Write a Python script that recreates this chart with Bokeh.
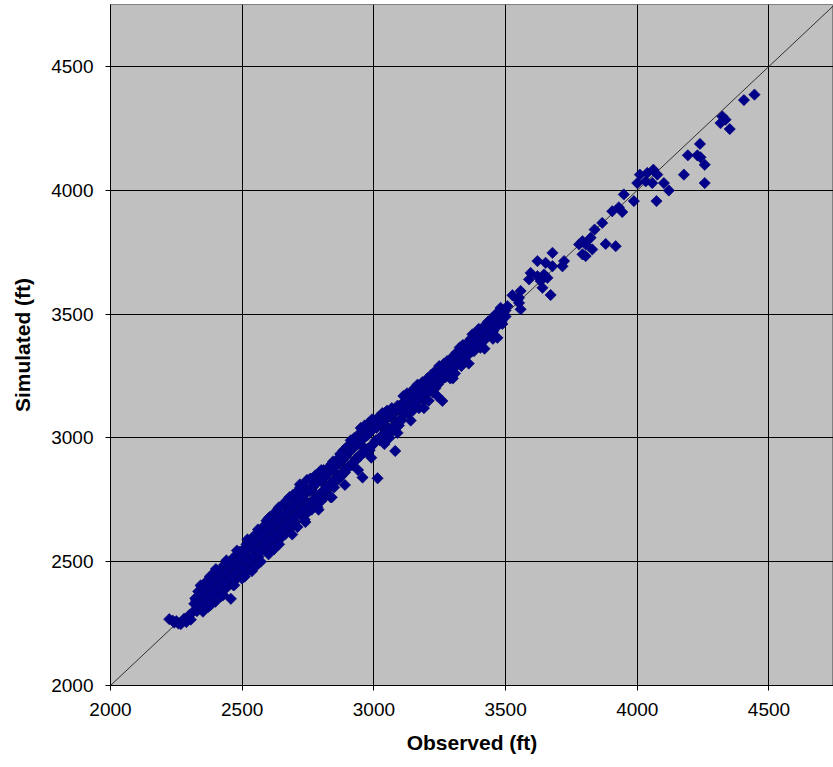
from bokeh.plotting import figure
from bokeh.models import Range1d, FixedTicker, ColumnDataSource
from bokeh.embed import file_html
from bokeh.resources import INLINE

# ---------------- data ----------------
tick_values = [2000, 2500, 3000, 3500, 4000, 4500]
one_to_one = [2000, 4750]

tail_obs = [2223, 2236, 2242, 2250, 2258, 2267, 2275, 2280, 2288, 2294, 2299, 2305, 2312, 2318]
tail_sim = [2268, 2262, 2254, 2260, 2250, 2248, 2262, 2270, 2256, 2276, 2284, 2266, 2296, 2330]

low_obs = [2322, 2328, 2333, 2338, 2342, 2347, 2351, 2356, 2360, 2364,
           2368, 2372, 2377, 2381, 2385, 2390, 2394, 2398, 2402, 2406,
           2410, 2415, 2419, 2423, 2428, 2432, 2436, 2441, 2445, 2450,
           2454, 2457, 2461, 2466, 2470, 2474, 2478, 2483, 2487, 2491,
           2495, 2499, 2503, 2508, 2512, 2516, 2520, 2525, 2529, 2533,
           2537, 2541, 2546, 2550, 2554, 2558, 2562, 2567, 2571, 2575,
           2579, 2583, 2588, 2592, 2596, 2600, 2604, 2609, 2613, 2617,
           2621, 2625, 2630, 2634, 2638, 2642, 2646, 2651, 2655, 2659,
           2663, 2667, 2672, 2676, 2680, 2684, 2688, 2693, 2697, 2701]
low_sim = [2352, 2300, 2380, 2326, 2404, 2350, 2298, 2396, 2335, 2420,
           2360, 2318, 2440, 2392, 2345, 2452, 2410, 2338, 2388, 2462,
           2372, 2425, 2470, 2400, 2365, 2488, 2440, 2395, 2475, 2420,
           2500, 2350, 2455, 2405, 2520, 2470, 2430, 2512, 2455, 2540,
           2478, 2432, 2548, 2500, 2455, 2570, 2520, 2470, 2580, 2505,
           2462, 2600, 2545, 2495, 2612, 2575, 2520, 2625, 2500, 2580,
           2640, 2548, 2620, 2665, 2540, 2600, 2680, 2560, 2645, 2610,
           2550, 2700, 2660, 2580, 2715, 2625, 2680, 2600, 2730, 2650,
           2610, 2745, 2700, 2630, 2760, 2690, 2640, 2770, 2720, 2660]

low_fill_obs = [2325, 2331, 2337, 2344, 2350, 2357, 2363, 2369, 2376, 2383,
                2389, 2396, 2403, 2409, 2416, 2422, 2429, 2435, 2442, 2448,
                2455, 2462, 2468, 2475, 2481, 2488, 2494, 2501, 2507, 2514,
                2520, 2527, 2533, 2540, 2546, 2553, 2559, 2566, 2572, 2579,
                2585, 2592, 2598, 2605, 2611, 2618, 2624, 2631, 2637, 2644,
                2650, 2657, 2663, 2670, 2676, 2683, 2689, 2696]
low_fill_sim = [2345, 2325, 2365, 2340, 2372, 2330, 2385, 2345, 2400, 2370,
                2420, 2380, 2430, 2395, 2445, 2420, 2455, 2410, 2460, 2440,
                2485, 2440, 2495, 2455, 2500, 2480, 2525, 2475, 2530, 2505,
                2550, 2505, 2560, 2520, 2575, 2545, 2590, 2540, 2600, 2565,
                2615, 2575, 2630, 2590, 2640, 2600, 2655, 2615, 2665, 2625,
                2685, 2640, 2690, 2655, 2710, 2665, 2720, 2680]

mid_obs = [2705, 2710, 2714, 2719, 2723, 2728, 2732, 2737, 2741, 2746,
           2750, 2755, 2759, 2764, 2768, 2773, 2777, 2782, 2786, 2791,
           2795, 2800, 2804, 2809, 2813, 2818, 2822, 2827, 2831, 2836,
           2840, 2845, 2849, 2854, 2858, 2863, 2867, 2872, 2876, 2881,
           2885, 2890, 2894, 2899, 2903, 2908, 2912, 2917, 2921, 2926,
           2930, 2935, 2939, 2944, 2948, 2953, 2957, 2962, 2966, 2971,
           2975, 2980, 2984, 2989, 2993, 2998, 3002, 3007, 3011, 3014,
           3018, 3023, 3027, 3032, 3036, 3041, 3045, 3050, 3054, 3059,
           3063, 3068, 3072, 3077, 3081, 3086, 3090, 3095, 3099, 3104]
mid_sim = [2780, 2640, 2735, 2812, 2690, 2760, 2805, 2670, 2745, 2830,
           2700, 2785, 2835, 2710, 2800, 2740, 2848, 2770, 2720, 2830,
           2860, 2745, 2820, 2870, 2760, 2845, 2790, 2880, 2800, 2760,
           2870, 2905, 2800, 2860, 2910, 2830, 2895, 2935, 2845, 2910,
           2950, 2860, 2925, 2965, 2880, 2945, 2990, 2890, 2960, 3000,
           2915, 2975, 3010, 2930, 2985, 3025, 2840, 2960, 3040, 2945,
           3010, 3060, 2950, 3030, 3075, 2975, 3045, 2990, 3060, 2837,
           3085, 2990, 3050, 3100, 3010, 3070, 3025, 3110, 3040, 3000,
           3085, 3120, 3030, 3100, 2947, 3060, 3130, 3050, 3110, 3070]

mid_fill_obs = [2702, 2709, 2716, 2723, 2730, 2737, 2744, 2751, 2758, 2765,
                2772, 2779, 2786, 2793, 2800, 2807, 2814, 2821, 2828, 2835,
                2842, 2849, 2856, 2863, 2870, 2877, 2884, 2891, 2898, 2905,
                2912, 2919, 2926, 2933, 2940, 2947, 2954, 2961, 2968, 2975,
                2982, 2989, 2996, 3003, 3010, 3017, 3024, 3031, 3038, 3045,
                3052, 3059, 3066, 3073, 3080, 3087, 3094, 3101]
mid_fill_sim = [2735, 2690, 2750, 2705, 2765, 2715, 2780, 2735, 2790, 2745,
                2810, 2755, 2820, 2770, 2835, 2785, 2850, 2800, 2860, 2815,
                2880, 2830, 2890, 2840, 2905, 2855, 2920, 2875, 2935, 2885,
                2950, 2900, 2965, 2910, 2975, 2925, 2995, 2940, 3005, 2955,
                3020, 2965, 3035, 2980, 3040, 2995, 3060, 3010, 3070, 3020,
                3085, 3035, 3095, 3045, 3110, 3060, 3120, 3075]

high_obs = [3108, 3112, 3117, 3121, 3126, 3130, 3135, 3139, 3144, 3148,
            3153, 3157, 3162, 3166, 3171, 3175, 3180, 3184, 3189, 3193,
            3198, 3203, 3208, 3213, 3218, 3223, 3228, 3233, 3238, 3243,
            3248, 3254, 3260, 3266, 3272, 3278, 3284, 3290, 3296, 3302,
            3308, 3314, 3320, 3326, 3332, 3338, 3344, 3350, 3356, 3362,
            3368, 3374, 3380, 3386, 3392, 3398, 3404, 3410, 3416, 3422,
            3428, 3434, 3440, 3446, 3452, 3458, 3463, 3469, 3475, 3481,
            3488, 3494, 3500, 3507]
high_sim = [3140, 3169, 3095, 3150, 3180, 3100, 3160, 3120, 3185, 3110,
            3200, 3145, 3175, 3215, 3120, 3190, 3160, 3225, 3150, 3205,
            3180, 3240, 3150, 3215, 3255, 3185, 3240, 3200, 3275, 3215,
            3290, 3230, 3149, 3300, 3245, 3310, 3270, 3240, 3325, 3280,
            3260, 3345, 3300, 3365, 3290, 3375, 3330, 3351, 3385, 3340,
            3400, 3418, 3350, 3420, 3380, 3440, 3364, 3425, 3390, 3455,
            3410, 3470, 3430, 3480, 3400, 3465, 3500, 3404, 3480, 3525,
            3460, 3499, 3515, 3532]

high_fill_obs = [3108, 3116, 3124, 3132, 3140, 3148, 3156, 3164, 3172, 3180,
                 3188, 3196, 3204, 3212, 3220, 3228, 3236, 3244, 3252, 3260,
                 3268, 3276, 3284, 3292, 3300, 3308, 3316, 3324, 3332, 3340,
                 3348, 3356, 3364, 3372, 3380, 3388, 3396, 3404, 3412, 3420,
                 3428, 3436, 3444, 3452, 3460, 3468, 3476, 3484, 3492, 3500]
high_fill_sim = [3130, 3100, 3150, 3125, 3165, 3135, 3180, 3150, 3195, 3170,
                 3215, 3185, 3225, 3190, 3240, 3215, 3255, 3225, 3270, 3240,
                 3285, 3260, 3300, 3275, 3315, 3290, 3330, 3305, 3350, 3320,
                 3365, 3335, 3380, 3350, 3395, 3370, 3410, 3385, 3425, 3400,
                 3445, 3415, 3455, 3430, 3475, 3450, 3490, 3470, 3505, 3490]

edge_obs = [2400, 2440, 2480, 2520, 2560, 2600, 2640, 2680, 2720, 2760,
            2800, 2840, 2880, 2920, 2950, 2965, 3000, 3040,
            2380, 2420, 2470, 2510, 2550, 2600, 2640, 2690, 2740, 2790,
            2840, 2890, 2940, 2990, 3040, 3090, 3140, 3190, 3240, 3300,
            3360, 3420]
edge_sim = [2470, 2505, 2545, 2590, 2630, 2675, 2720, 2760, 2800, 2835,
            2870, 2895, 2935, 2990, 3040, 3050, 3070, 3100,
            2325, 2360, 2405, 2440, 2480, 2530, 2570, 2610, 2660, 2710,
            2760, 2810, 2870, 2920, 2975, 3020, 3070, 3120, 3170, 3240,
            3300, 3360]

top_obs = [3526, 3545, 3551, 3551, 3557, 3557, 3589, 3595, 3621, 3633,
           3640, 3646, 3659, 3671, 3621, 3652, 3678, 3678, 3722, 3716,
           3779, 3792, 3804, 3823, 3829, 3792, 3804, 3838, 3867, 3880,
           3918, 3905, 3930, 3943, 3949, 3987, 4000, 4010, 4032, 4038,
           4057, 4061, 4076, 4101, 4120, 4073, 4177, 4192, 4228, 4240,
           4238, 4256, 4256, 4323, 4335, 4316, 4351, 4405, 4445]
top_sim = [3576, 3559, 3566, 3545, 3519, 3593, 3640, 3666, 3653, 3633,
           3606, 3660, 3646, 3577, 3714, 3707, 3693, 3747, 3714, 3693,
           3781, 3794, 3781, 3808, 3761, 3741, 3734, 3841, 3868, 3783,
           3774, 3915, 3931, 3912, 3983, 3956, 4029, 4063, 4036, 4070,
           4029, 4083, 4063, 4029, 3999, 3956, 4063, 4141, 4141, 4133,
           4187, 4103, 4029, 4298, 4285, 4271, 4247, 4364, 4386]

observed = (tail_obs + low_obs + low_fill_obs + mid_obs + mid_fill_obs
            + high_obs + high_fill_obs + edge_obs + top_obs)
simulated = (tail_sim + low_sim + low_fill_sim + mid_sim + mid_fill_sim
             + high_sim + high_fill_sim + edge_sim + top_sim)

# ---------------- figure ----------------
FONT = "Liberation Sans"

p = figure(width=833, height=767,
           x_range=Range1d(2000, 4745), y_range=Range1d(2000, 4750),
           output_backend="svg", toolbar_location=None,
           min_border_left=110, min_border_right=0,
           min_border_top=4, min_border_bottom=82,
           background_fill_color="#c0c0c0", border_fill_color="white",
           outline_line_color="#808080", outline_line_width=1)

for ax in (p.xaxis, p.yaxis):
    ax.ticker = FixedTicker(ticks=tick_values, minor_ticks=[])
    ax.axis_line_color = "black"
    ax.axis_line_width = 1
    ax.major_tick_line_color = "black"
    ax.major_tick_out = 5
    ax.major_tick_in = 0
    ax.minor_tick_out = 0
    ax.minor_tick_in = 0
    ax.major_label_text_font = FONT
    ax.major_label_text_font_size = "19px"
    ax.major_label_text_color = "black"
    ax.major_label_standoff = 12
    ax.axis_label_text_font = FONT
    ax.axis_label_text_font_size = "21px"
    ax.axis_label_text_font_style = "bold"
    ax.axis_label_text_color = "black"

p.xaxis.axis_label = "Observed (ft)"
p.yaxis.axis_label = "Simulated (ft)"
p.xaxis.axis_label_standoff = 12
p.yaxis.axis_label_standoff = 14
p.yaxis.major_label_orientation = "horizontal"

for g in (p.xgrid, p.ygrid):
    g.ticker = FixedTicker(ticks=tick_values, minor_ticks=[])
    g.grid_line_color = "black"
    g.grid_line_width = 1
    g.grid_line_alpha = 1

p.line(one_to_one, one_to_one, line_color="#303030", line_width=1)

src = ColumnDataSource(dict(x=observed, y=simulated))
p.scatter("x", "y", source=src, marker="square", size=8, angle=0.785398,
          fill_color="#00008b", line_color="#000070", line_width=0.6)

open("out.html", "w").write(file_html(p, INLINE))
